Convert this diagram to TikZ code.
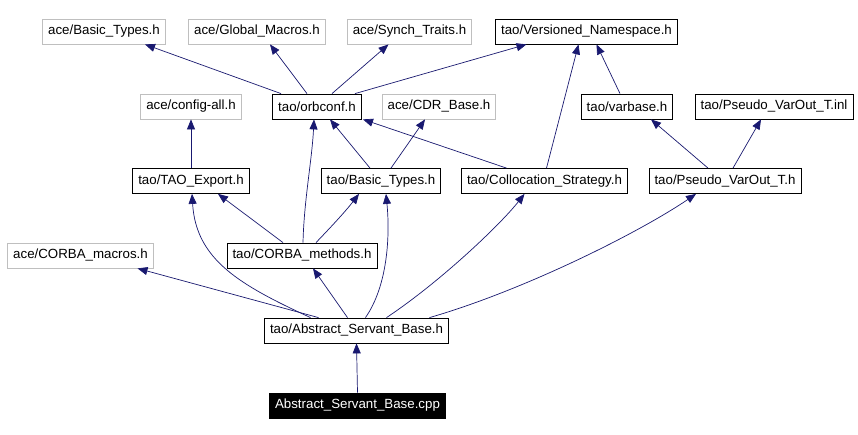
\documentclass[tikz,border=0pt]{standalone}
\usepackage{fontspec}
\setmainfont{Liberation Sans}
\usetikzlibrary{arrows.meta}
\definecolor{edgeblue}{HTML}{191970}
\definecolor{extgray}{HTML}{BFBFBF}
\tikzset{
    hdr/.style={draw=black, line width=0.8pt, minimum height=25pt, inner xsep=5.5pt, inner ysep=0pt, font=\fontsize{13.3}{16}\selectfont},
    exthdr/.style={hdr, draw=extgray},
    srcfile/.style={hdr, fill=black, text=white},
    dep/.style={draw=edgeblue, line width=0.7pt, -{Triangle[length=10pt,width=8pt]}}
}
\begin{document}
\begin{tikzpicture}[x=1pt,y=-1pt]
                \useasboundingbox[fill=white] (0,0) rectangle (858,435);
                % top row
                \node[exthdr] (abt) at (104,31.5) {ace/Basic\_Types.h};
                \node[exthdr] (agm) at (257,31.5) {ace/Global\_Macros.h};
                \node[exthdr] (ast) at (409.5,31.5) {ace/Synch\_Traits.h};
                \node[hdr] (tvn) at (586.5,31.5) {tao/Versioned\_Namespace.h};
                % second row
                \node[exthdr] (acfg) at (191,106.5) {ace/config-all.h};
                \node[hdr] (orb) at (317,106.5) {tao/orbconf.h};
                \node[exthdr] (acdr) at (439,106.5) {ace/CDR\_Base.h};
                \node[hdr] (tvb) at (627,106.5) {tao/varbase.h};
                \node[hdr] (tpi) at (774,106.5) {tao/Pseudo\_VarOut\_T.inl};
                % third row
                \node[hdr] (tex) at (191,181) {tao/TAO\_Export.h};
                \node[hdr] (tbt) at (381,181) {tao/Basic\_Types.h};
                \node[hdr] (tcs) at (544.5,181) {tao/Collocation\_Strategy.h};
                \node[hdr] (tpv) at (725,181) {tao/Pseudo\_VarOut\_T.h};
                % lower rows
                \node[exthdr] (acm) at (80.5,255.5) {ace/CORBA\_macros.h};
                \node[hdr] (tcm) at (302,255.5) {tao/CORBA\_methods.h};
                \node[hdr] (asb) at (356.5,330.5) {tao/Abstract\_Servant\_Base.h};
                \node[srcfile] (cpp) at (357.5,405.5) {Abstract\_Servant\_Base.cpp};

                % straight includes
                \foreach \a/\da/\b/\db in {orb/-36/abt/41, orb/-10/agm/13, orb/15/ast/-21,
                        orb/38/tvn/-60, tex/0/acfg/0, tbt/-11/orb/13, tbt/10/acdr/-14,
                        tcs/-38/orb/46, tcs/2/tvn/-8, tvb/-7/tvn/10, tpv/-17/tvb/24,
                        tpv/8/tpi/-13, tcm/-19/tex/27, asb/-38/acm/57, asb/-9/tcm/11,
                        cpp/0/asb/0} {
                        \draw[dep] ([xshift=\da pt]\a.north) -- ([xshift=\db pt]\b.south);
                    }
                % curved includes
                \draw[dep] ([xshift=1pt]tcm.north) .. controls (304,200) and (312,160) .. ([xshift=-3pt]orb.south);
                \draw[dep] ([xshift=14pt]tcm.north) .. controls (330,228) and (345,212) .. ([xshift=-22pt]tbt.south);
                \draw[dep] ([xshift=-46pt]asb.north) .. controls (240,285) and (196,260) .. ([xshift=1pt]tex.south);
                \draw[dep] ([xshift=9pt]asb.north) .. controls (388,285) and (390,235) .. ([xshift=5pt]tbt.south);
                \draw[dep] ([xshift=30pt]asb.north) .. controls (440,282) and (500,225) .. ([xshift=-20pt]tcs.south);
                \draw[dep] ([xshift=73pt]asb.north) .. controls (525,290) and (640,232) .. ([xshift=-29pt]tpv.south);
            \end{tikzpicture}
\end{document}
